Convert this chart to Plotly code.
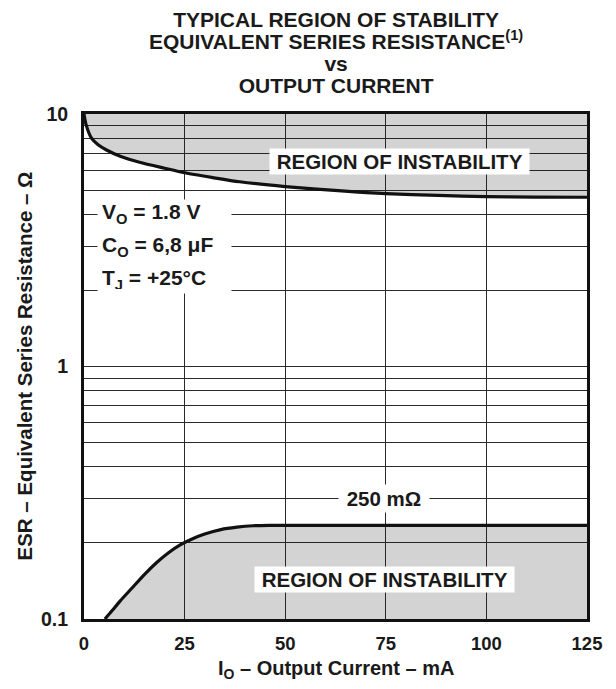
import math
import plotly.graph_objects as go

# ---- data ----
x_ticks = [0, 25, 50, 75, 100, 125]
y_major = [0.1, 1, 10]
y_major_text = ["0.1", "1", "10"]
y_minor = [0.2, 0.3, 0.4, 0.5, 0.6, 0.7, 0.8, 0.9,
           2, 3, 4, 5, 6, 7, 8, 9]

upper_x = [0, 0.5, 1.9, 3.5, 5.6, 9, 13.8, 20, 25, 32, 38.7, 50, 64, 75, 88, 100, 112, 125]
upper_y = [10, 9.1, 8.0, 7.55, 7.2, 6.8, 6.44, 6.1, 5.85, 5.6, 5.39, 5.16, 4.96, 4.84, 4.76, 4.71, 4.69, 4.68]

lower_x = [5.2, 7, 9, 12, 15, 18, 21, 24, 27, 30, 34, 38, 42, 46, 50, 125]
lower_y = [0.1, 0.108, 0.118, 0.133, 0.150, 0.167, 0.183, 0.197, 0.208, 0.217, 0.226, 0.231, 0.234, 0.235, 0.235, 0.235]

X_MIN, X_MAX = 0, 125
Y_MIN, Y_MAX = 0.1, 10

FONT = "Liberation Sans, Arial, Helvetica, sans-serif"
FILL = "rgba(20,22,28,0.19)"
GRID = "#2a2a2a"
INK = "#1a1a1a"


def ly(v):
    """annotation position on a log axis is given in log10 units"""
    return math.log10(v)


def big(t, px):
    return f"<span style='font-size:{px}px'>{t}</span>"


fig = go.Figure()

# upper instability region
fig.add_trace(go.Scatter(
    x=upper_x + [X_MAX, X_MIN], y=upper_y + [Y_MAX, Y_MAX],
    mode="none", fill="toself", fillcolor=FILL, hoverinfo="skip", showlegend=False))
# lower instability region
fig.add_trace(go.Scatter(
    x=lower_x + [X_MAX, lower_x[0]], y=lower_y + [Y_MIN, Y_MIN],
    mode="none", fill="toself", fillcolor=FILL, hoverinfo="skip", showlegend=False))
# boundary curves
fig.add_trace(go.Scatter(x=upper_x, y=upper_y, mode="lines",
                         line=dict(color="#111", width=3.2, shape="spline", smoothing=0.7),
                         hoverinfo="skip", showlegend=False))
fig.add_trace(go.Scatter(x=lower_x, y=lower_y, mode="lines",
                         line=dict(color="#111", width=3.2, shape="spline", smoothing=0.7),
                         hoverinfo="skip", showlegend=False))

bold = dict(family=FONT, color=INK, weight="bold")

ann = []
# title: one text block, tight line spacing (base size 17 -> 22px lines, glyphs 21px)
title_lines = ["TYPICAL REGION OF STABILITY",
               "EQUIVALENT SERIES RESISTANCE<sup>(1)</sup>",
               "vs",
               "OUTPUT CURRENT"]
ann.append(dict(text="<br>".join(big(t, 21) for t in title_lines),
                xref="paper", yref="paper", x=0.5, y=1, yshift=62,
                xanchor="center", yanchor="middle", align="center", showarrow=False,
                font=dict(size=17, **bold)))

# region labels
ann.append(dict(text="\u00a0REGION OF INSTABILITY\u00a0", x=78.5, y=ly(6.5),
                showarrow=False, bgcolor="white", borderpad=1,
                font=dict(size=20.5, **bold)))
ann.append(dict(text="\u00a0REGION OF INSTABILITY\u00a0", x=74.7, y=ly(0.143),
                showarrow=False, bgcolor="white", borderpad=1,
                font=dict(size=20.5, **bold)))
ann.append(dict(text="\u00a0250 m\u03a9\u00a0", x=74.6, y=ly(0.3), showarrow=False,
                bgcolor="white", borderpad=2, font=dict(size=20.5, **bold)))

# conditions block: one white box, 33px line pitch
cond_lines = ["V<sub>O</sub> = 1.8 V",
              "C<sub>O</sub> = 6,8 \u03bcF",
              "T<sub>J</sub> = +25\u00b0C"]
ann.append(dict(text="<br>".join(big(t, 21) for t in cond_lines),
                x=3.2, y=ly(2.99), xanchor="left", yanchor="middle", align="left",
                showarrow=False, bgcolor="white", borderpad=4, width=125, height=85,
                font=dict(size=25.4, **bold)))

# axis titles
ann.append(dict(text="I<sub>O</sub> \u2013 Output Current \u2013 mA", xref="paper", yref="paper",
                x=0.5, y=0, yshift=-50, xanchor="center", yanchor="middle", showarrow=False,
                font=dict(size=20, **bold)))
ann.append(dict(text="ESR \u2013 Equivalent Series Resistance \u2013 \u03a9", xref="paper", yref="paper",
                x=0, y=0.5, xshift=-60, xanchor="center", yanchor="middle", textangle=-90,
                showarrow=False, font=dict(size=20.5, **bold)))

grid_minor = dict(tickvals=y_minor, showgrid=True, gridcolor=GRID, gridwidth=1.2, ticks="")

fig.update_layout(
    width=616, height=689,
    margin=dict(l=84, r=29, t=114, b=70),
    paper_bgcolor="white", plot_bgcolor="white",
    annotations=ann,
    xaxis=dict(range=[X_MIN, X_MAX], tickvals=x_ticks, ticktext=[str(v) for v in x_ticks],
               showgrid=True, gridcolor=GRID, gridwidth=1.2, zeroline=False,
               showline=True, linecolor="#111", linewidth=3, mirror=True,
               ticks="", ticklabelstandoff=6,
               tickfont=dict(size=18.5, **bold)),
    yaxis=dict(type="log", range=[-1, 1], tickvals=y_major, ticktext=y_major_text,
               minor=grid_minor,
               showgrid=True, gridcolor=GRID, gridwidth=1.2, zeroline=False,
               showline=True, linecolor="#111", linewidth=3, mirror=True,
               ticks="", ticklabelstandoff=9,
               tickfont=dict(size=19.5, **bold)),
)

fig.write_html("out.html", config={"displayModeBar": False},
               post_script="document.body.style.margin='0';document.body.style.overflow='hidden';")
